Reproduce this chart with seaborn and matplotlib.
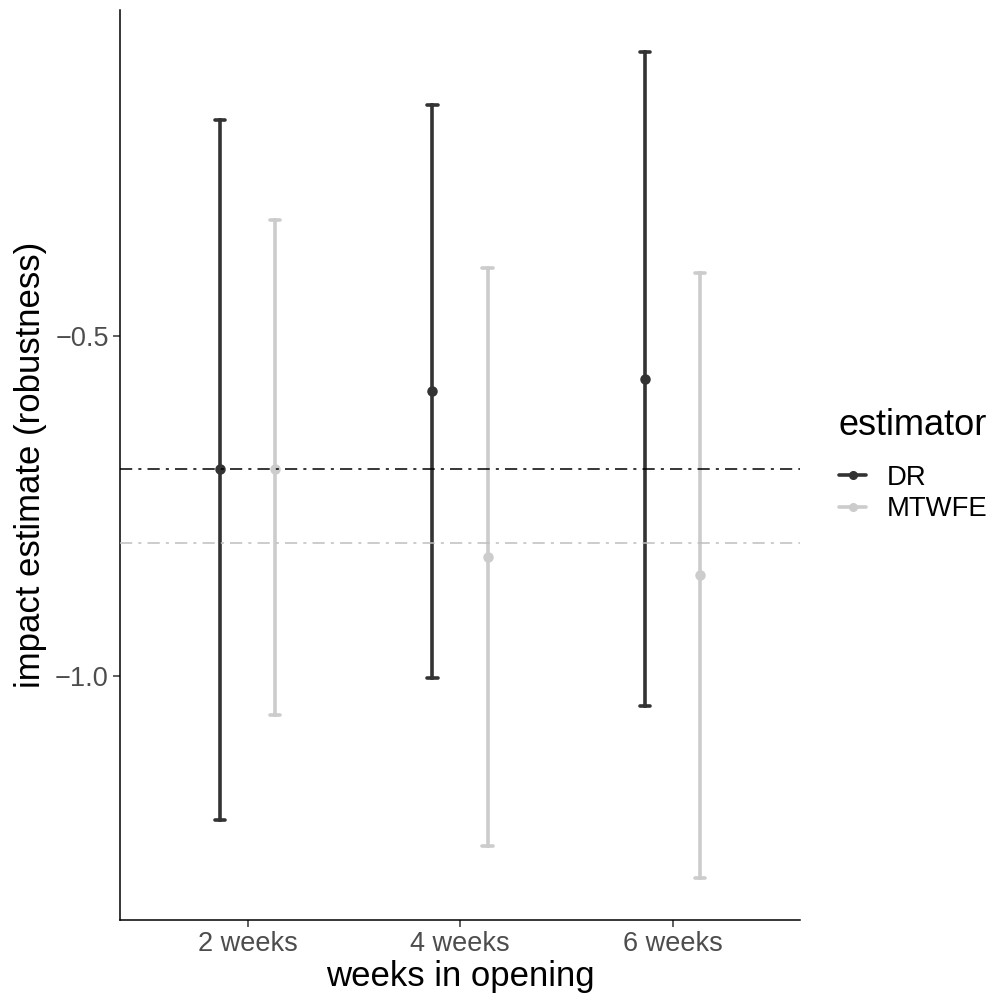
import matplotlib
matplotlib.use("Agg")
import matplotlib.pyplot as plt
from matplotlib.lines import Line2D
import seaborn as sns
import pandas as pd

# values
weeks = ["2 weeks", "4 weeks", "6 weeks"]
estimators = ["DR", "MTWFE"]
dr_est = [-0.696, -0.582, -0.564]
dr_low = [-1.211, -1.003, -1.044]
dr_high = [-0.183, -0.161, -0.083]
mt_est = [-0.696, -0.825, -0.852]
mt_low = [-1.057, -1.250, -1.297]
mt_high = [-0.330, -0.401, -0.408]
pooled = [-0.696, -0.804]  # overall estimates (horizontal lines)

colors = {"DR": "#333333", "MTWFE": "#cccccc"}
hline_colors = ["#000000", "#bebebe"]

# long table: low / estimate / high per group -> median = estimate, 100% interval = low..high
rows = []
for est_name, est, lo, hi in [("DR", dr_est, dr_low, dr_high),
                              ("MTWFE", mt_est, mt_low, mt_high)]:
    for w, e, l, h in zip(weeks, est, lo, hi):
        for v in (l, e, h):
            rows.append({"weeks": w, "estimator": est_name, "value": v})
df = pd.DataFrame(rows)

sns.set_style("white")
plt.rcParams["font.family"] = ["Liberation Sans", "DejaVu Sans"]
plt.rcParams["text.color"] = "black"

fig = plt.figure(figsize=(9.93, 9.98), dpi=100)
ax = fig.add_axes([120 / 993, 78 / 998, 680 / 993, 910 / 998])

sns.pointplot(data=df, x="weeks", y="value", hue="estimator", order=weeks,
              hue_order=estimators, palette=colors, estimator="median",
              errorbar=("pi", 100), dodge=0.26, linestyle="none",
              markers="o", markersize=5.5, capsize=0.05,
              err_kws={"linewidth": 2.6}, legend=False, ax=ax)

for val, c in zip(pooled, hline_colors):
    ax.axhline(val, color=c, lw=1.1, linestyle=(0, (8, 4, 2, 4)), zorder=5)

ax.set_xlim(-0.6, 2.6)
ax.set_ylim(-1.358, -0.022)
ax.set_yticks([-1.0, -0.5])
ax.set_yticklabels(["\u22121.0", "\u22120.5"])

for side in ["top", "right"]:
    ax.spines[side].set_visible(False)
for side in ["left", "bottom"]:
    ax.spines[side].set_color("black")
    ax.spines[side].set_linewidth(1.1)

ax.tick_params(axis="both", which="major", length=5, width=1.1, color="#333333",
               labelsize=19.5, labelcolor="#4d4d4d", bottom=True, left=True, pad=3)

ax.set_xlabel("weeks in opening", fontsize=25, color="black", labelpad=2)
ax.set_ylabel("impact estimate (robustness)", fontsize=25, color="black", labelpad=6)

handles = [Line2D([0], [0], color=colors[e], lw=2.6, marker="o", markersize=5.5)
           for e in estimators]
leg = fig.legend(handles, estimators, title="estimator", loc="center left",
                 bbox_to_anchor=(814 / 993, 0.534), frameon=False, fontsize=19.8,
                 title_fontsize=26, handlelength=1.0, handletextpad=0.75,
                 labelspacing=0.2, labelcolor="black")
leg.get_title().set_color("black")
leg._legend_box.align = "left"
leg._legend_box.sep = 16

fig.savefig("out.png", dpi=100)
